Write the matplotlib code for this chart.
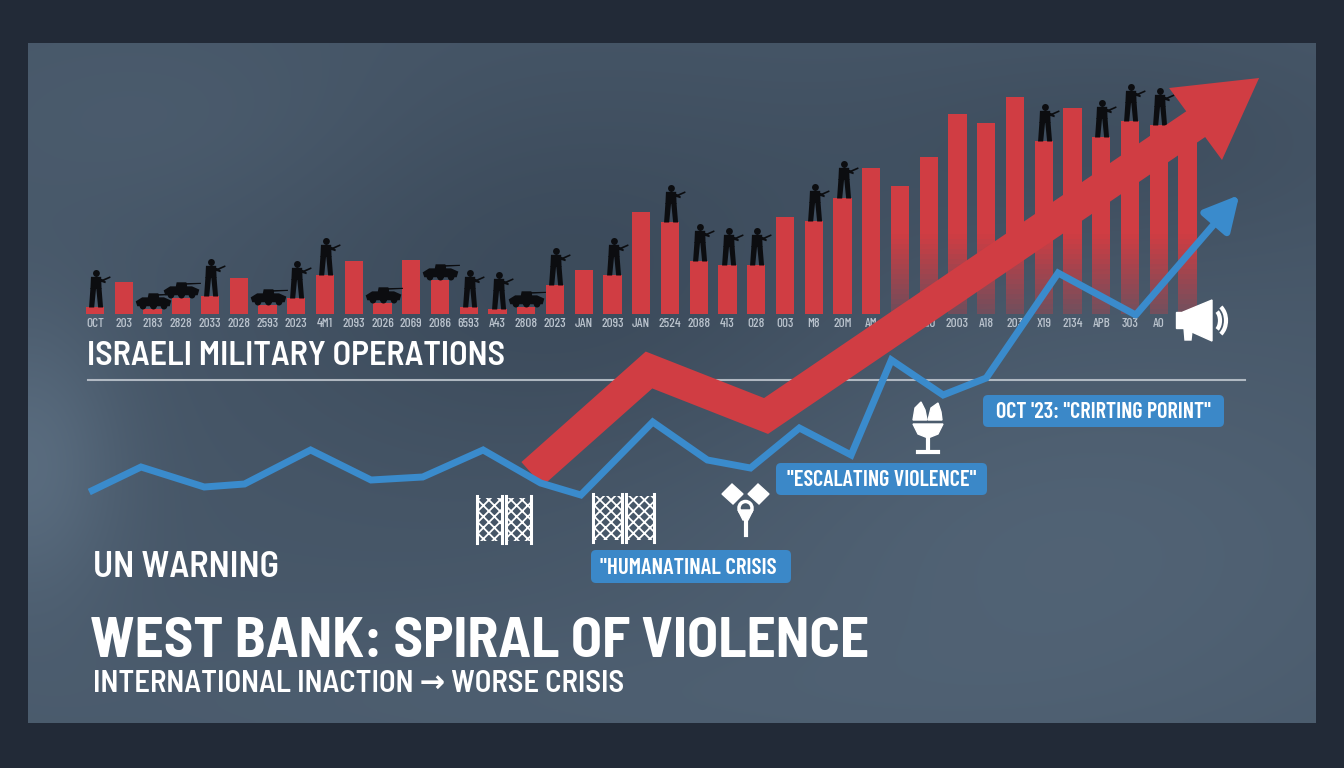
import numpy as np
import matplotlib
matplotlib.use("Agg")
import matplotlib.pyplot as plt
from matplotlib.path import Path
from matplotlib.patches import Rectangle, Polygon, FancyBboxPatch, Circle, Arc

W, H = 1344, 768

# ---------------- data ----------------
month_labels = ["OCT", "203", "2183", "2828", "2033", "2028", "2593", "2023", "4M1", "2093",
                "2026", "2069", "2086", "6593", "A43", "2808", "2023", "JAN", "2093", "JAN",
                "2524", "2088", "413", "028", "003", "M8", "20M", "AM", "2010", "A10",
                "2003", "A18", "203", "X19", "2134", "APB", "303", "A0", ""]
operations = [3.5, 16, 2.5, 8, 9, 18, 4.5, 8, 19.5, 26.5,
              5.5, 27, 17, 3.5, 2.5, 3.5, 14.5, 22, 19.5, 51,
              46, 26.5, 24.5, 24.5, 48.5, 46.5, 58, 73, 64, 78.5,
              100, 95.5, 108.5, 86.5, 103, 88.5, 96.5, 94.5, 87.5]
soldier_bars = [0, 4, 7, 8, 13, 14, 16, 18, 20, 21, 22, 23, 25, 26, 33, 35, 36, 37]
vehicle_bars = [2, 3, 6, 10, 12, 15]

violence_t = [-0.2, 1.6, 3.8, 5.2, 7.5, 9.6, 11.4, 13.5, 15.5, 16.9, 19.4, 21.3,
              22.8, 24.5, 26.3, 27.7, 29.5, 31.0, 33.5, 36.2, 39.8]
violence_idx = [27, 33.25, 28.25, 29, 37.5, 30, 30.75, 37.5, 29.25, 26.25, 44.5, 35,
                33, 43, 36.25, 60, 51.25, 55.5, 81.75, 71.25, 101.25]

trend_t = [15.2, 19.27, 23.34, 38.6]
trend_idx = [31.5, 57.5, 46, 120.5]
trend_head_t = [37.36, 40.49, 39.2]
trend_head_idx = [128, 130.5, 110]

# ---------------- style ----------------
FONT = ['Barlow Condensed', 'DejaVu Sans']
FONT_T = ['Barlow Semi Condensed', 'Barlow Condensed', 'DejaVu Sans']
plt.rcParams['font.family'] = FONT
plt.rcParams['hatch.linewidth'] = 1.3
RED = '#d03d43'
BLUE = '#3a8bcc'
BOXBLUE = '#3b88c8'
OUTER = '#222a37'

XMIN, XMAX = -95 / 28.75, (W - 95) / 28.75

fig = plt.figure(figsize=(W / 100, H / 100), dpi=100)
fig.patch.set_facecolor(OUTER)

# ---------------- background panel ----------------
nx, ny = 320, 170
gx = np.linspace(0, 1, nx)[None, :]
gy = np.linspace(0, 1, ny)[:, None]


def blob(cx, cy, sx, sy, a):
    return a * np.exp(-((gx - cx) ** 2 / (2 * sx ** 2) + (gy - cy) ** 2 / (2 * sy ** 2)))


f = 0.45 * np.ones((ny, nx))
f += blob(0.0, 0.62, 0.05, 0.15, 0.45)
f -= blob(0.42, 0.35, 0.18, 0.22, 0.3)
f -= blob(0.85, 0.15, 0.15, 0.12, 0.2)
f += blob(0.8, 0.75, 0.22, 0.22, 0.25)
f += blob(0.35, 0.97, 0.3, 0.08, 0.12)
f += blob(0.12, 0.12, 0.12, 0.1, 0.1)
f = np.clip(f, 0, 1)
dark = np.array([0x36, 0x44, 0x54]) / 255
light = np.array([0x5d, 0x70, 0x83]) / 255
bg_img = dark + (light - dark) * f[..., None]

axbg = fig.add_axes([28 / W, 1 - 723 / H, 1288 / W, 680 / H], zorder=0)
axbg.imshow(bg_img, aspect='auto', extent=(0, 1, 0, 1), interpolation='bicubic')
axbg.set_axis_off()

# ---------------- bars ----------------
axb = fig.add_axes([0, 1 - 314 / H, 1, 314 / H], zorder=1)
axb.set_facecolor('none')
axb.set_xlim(XMIN, XMAX)
axb.set_ylim(0, 157)
for s in axb.spines.values():
    s.set_visible(False)
axb.set_yticks([])
xs = np.arange(len(operations))
vals = np.array(operations, dtype=float)
BW = 0.63
FADE_FROM = 28
FADE_H = 40.0
solid_bottom = np.where(xs >= FADE_FROM, np.minimum(FADE_H, vals), 0.0)
axb.bar(xs, vals - solid_bottom, bottom=solid_bottom, width=BW, color=RED, lw=0)
nseg = 16
sel = xs >= FADE_FROM
for k in range(nseg):
    lo = FADE_H * k / nseg
    hi = FADE_H * (k + 1) / nseg
    a = 0.3 + 0.7 * (k + 0.5) / nseg
    axb.bar(xs[sel], np.full(sel.sum(), hi - lo), bottom=lo, width=BW, color=RED, alpha=a, lw=0)

axb.set_xticks(xs)
axb.set_xticklabels(month_labels, fontsize=9.5, color='#bac3cd', weight='medium')
axb.tick_params(axis='x', length=0, pad=3)


def poly(pts):
    return Path(list(pts) + [pts[0]], [Path.MOVETO] + [Path.LINETO] * (len(pts) - 1) + [Path.CLOSEPOLY])


def soldier_path():
    parts = [Path.circle((0.05, 1.8), 0.18),
             poly([(-0.27, 0.98), (0.32, 0.98), (0.3, 1.62), (-0.24, 1.62)]),
             poly([(-0.34, 0.0), (-0.07, 0.0), (0.03, 1.0), (-0.27, 1.0)]),
             poly([(0.14, 0.0), (0.4, 0.0), (0.32, 1.0), (0.04, 1.0)]),
             poly([(0.03, 1.22), (0.8, 1.57), (0.77, 1.65), (0.0, 1.32)]),
             poly([(0.15, 1.40), (0.52, 1.28), (0.55, 1.37), (0.2, 1.56)])]
    return Path.make_compound_path(*parts)


def vehicle_path():
    parts = [poly([(-1.0, 0.2), (1.0, 0.2), (1.1, 0.55), (0.65, 0.75), (-0.7, 0.75), (-1.1, 0.5)]),
             poly([(-0.35, 0.75), (0.35, 0.75), (0.3, 1.0), (-0.3, 1.0)]),
             poly([(0.3, 0.85), (1.2, 0.9), (1.2, 0.97), (0.3, 0.95)])]
    for wx in (-0.65, 0.0, 0.65):
        parts.append(Path.circle((wx, 0.2), 0.2))
    return Path.make_compound_path(*parts)


axb.plot(xs[soldier_bars], vals[soldier_bars], ls='none', marker=soldier_path(), ms=54,
         color='#0c0d10', mew=0, clip_on=False)
axb.plot(xs[vehicle_bars], vals[vehicle_bars], ls='none', marker=vehicle_path(), ms=28,
         color='#0c0d10', mew=0, clip_on=False)

# ---------------- lines ----------------
ax = fig.add_axes([0, 0, 1, 1], zorder=2)
ax.set_facecolor('none')
ax.set_xlim(XMIN, XMAX)
ax.set_ylim(-42, 150)
ax.set_axis_off()
ax.plot([-0.24, 40.0], [55, 55], color='#c3cad2', lw=1.5, alpha=0.85, zorder=1)

ax.plot(trend_t, trend_idx, color=RED, lw=23, solid_joinstyle='miter',
        solid_capstyle='butt', zorder=2)
ax.add_patch(Polygon(np.column_stack([trend_head_t, trend_head_idx]), closed=True,
                     color=RED, lw=0, zorder=2))

ax.plot(violence_t[:-1], violence_idx[:-1], color=BLUE, lw=5, solid_joinstyle='miter',
        solid_capstyle='butt', zorder=3)
ax.annotate('', xy=(violence_t[-1], violence_idx[-1]), xytext=(violence_t[-2], violence_idx[-2]),
            arrowprops=dict(arrowstyle='-|>,head_length=1.05,head_width=0.55', color=BLUE,
                            lw=5, shrinkA=0, shrinkB=0, mutation_scale=20), zorder=3)

# ---------------- pixel overlay: text, icons ----------------
axp = fig.add_axes([0, 0, 1, 1], zorder=3)
axp.set_facecolor('none')
axp.set_xlim(0, W)
axp.set_ylim(H, 0)
axp.set_axis_off()

WHITE = 'white'
axp.text(87, 365, "ISRAELI MILITARY OPERATIONS", fontsize=24.5, color=WHITE, weight='semibold',
         va='baseline', family=FONT_T)
axp.text(93, 577, "UN WARNING", fontsize=26, color=WHITE, weight='semibold', va='baseline', family=FONT_T)
axp.text(90, 657, "WEST BANK: SPIRAL OF VIOLENCE", fontsize=41, color=WHITE, weight='bold',
         va='baseline', family=FONT_T)
axp.text(93, 692, "INTERNATIONAL INACTION \u2192 WORSE CRISIS", fontsize=22, color=WHITE,
         weight='semibold', va='baseline', family=FONT_T)


def label_box(x0, y0, x1, y1, text, fs, ha='center'):
    axp.add_patch(FancyBboxPatch((x0, y0), x1 - x0, y1 - y0,
                                 boxstyle='round,pad=0,rounding_size=5', fc=BOXBLUE, ec='none'))
    tx = (x0 + x1) / 2 if ha == 'center' else x0 + 9
    axp.text(tx, (y0 + y1) / 2 + 1, text, ha=ha, va='center', fontsize=fs,
             color=WHITE, weight='semibold')


label_box(591, 550, 791, 583, '"HUMANATINAL CRISIS', 16.5, ha='left')
label_box(776, 463, 987, 495, '"ESCALATING VIOLENCE"', 16)
label_box(983, 395, 1224, 427, 'OCT \'23: "CRIRTING PORINT"', 16)


def fence(x0, x1, y0, y1):
    mid = (x0 + x1) / 2
    axp.add_patch(Rectangle((x0, y0), mid - x0 - 2, y1 - y0, fill=False, hatch='xxx', ec=WHITE, lw=0))
    axp.add_patch(Rectangle((mid + 2, y0), x1 - mid - 2, y1 - y0, fill=False, hatch='xxx', ec=WHITE, lw=0))
    for px in (x0, mid - 2, mid + 2, x1):
        axp.plot([px, px], [y0 - 2, y1 + 2], color=WHITE, lw=2.2)


fence(477, 531, 498, 541)
fence(593, 654, 496, 540)

# person / warning icon
axp.add_patch(Polygon([(732, 484), (743, 494), (733, 504), (722, 494)], color=WHITE))
axp.add_patch(Polygon([(758, 484), (769, 494), (759, 504), (748, 494)], color=WHITE))
axp.add_patch(Circle((745.5, 508), 6.5, fill=False, ec=WHITE, lw=2.5))
axp.add_patch(Polygon([(738, 510), (753, 510), (748, 520), (743, 520)], color=WHITE))
axp.plot([745.5, 745.5], [519, 535], color=WHITE, lw=3)

# torch icon
axp.add_patch(Polygon([(913, 420), (915, 408), (921, 402), (925, 410), (927, 420)], color=WHITE))
axp.add_patch(Polygon([(928, 420), (931, 408), (938, 403), (941, 412), (942, 420)], color=WHITE))
axp.add_patch(Polygon([(913, 424), (943, 424), (938, 434), (928, 438), (918, 434)], color=WHITE))
axp.plot([928, 928], [437, 450], color=WHITE, lw=3)
axp.plot([918, 938], [452, 452], color=WHITE, lw=3)

# megaphone
axp.add_patch(Rectangle((1176, 312), 8, 16, color=WHITE))
axp.add_patch(Polygon([(1183, 312), (1212, 300), (1212, 341), (1183, 328)], color=WHITE))
axp.add_patch(Polygon([(1184, 328), (1192, 331), (1191, 340), (1185, 340)], color=WHITE))
axp.add_patch(Arc((1213, 320.5), 14, 22, theta1=-65, theta2=65, color=WHITE, lw=3))
axp.add_patch(Arc((1213, 320.5), 26, 34, theta1=-60, theta2=60, color=WHITE, lw=3))

fig.savefig('out.png', dpi=100, facecolor=OUTER)
